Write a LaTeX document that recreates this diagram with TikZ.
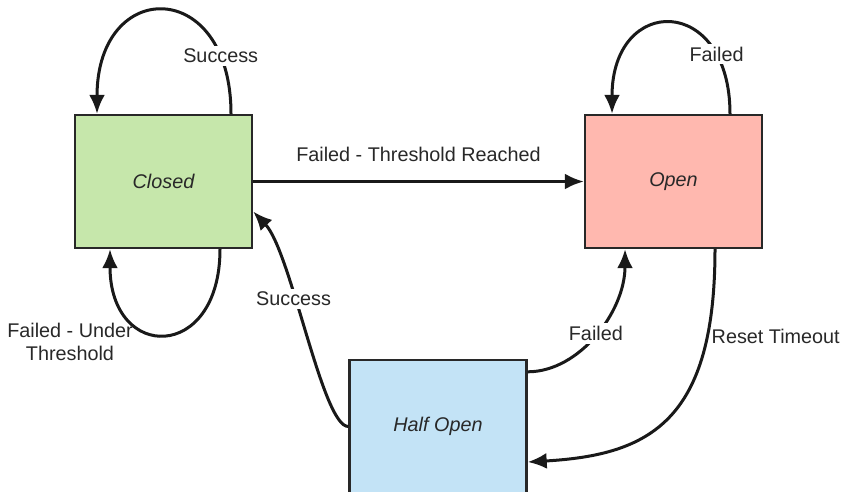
\documentclass[tikz,border=0pt]{standalone}
\usepackage{fontspec}
\setmainfont{Liberation Sans}
\usepackage{xcolor}
\usepackage{tikz}
\usetikzlibrary{arrows.meta,positioning}
\definecolor{closedgreen}{RGB}{198,231,171}
\definecolor{openpink}{RGB}{255,184,175}
\definecolor{halfblue}{RGB}{195,227,246}
\definecolor{inkgray}{RGB}{40,40,40}
\tikzset{
  statebox/.style={rectangle, draw=inkgray, line width=2.4pt, minimum width=177pt, minimum height=133pt, font=\fontsize{19.8}{23}\selectfont\itshape, text=inkgray},
  trans/.style={line width=3pt, draw=black!90, -{Latex[length=19pt,width=16pt]}},
  lbl/.style={font=\fontsize{19.8}{23}\selectfont, text=inkgray, inner sep=3pt},
  onlbl/.style={lbl, fill=white}
}
\begin{document}
\begin{tikzpicture}[x=1pt,y=-1pt]
  \useasboundingbox (0,0) rectangle (843,491);
  % states
  \node[statebox, fill=closedgreen] (closed) at (163.5,181.5) {Closed};
  \node[statebox, fill=openpink] (open) at (673.5,181.5) {Open};
  \node[statebox, fill=halfblue] (half) at (438,426.5) {Half Open};

  % self loops
  \draw[trans] ([xshift=67.5pt]closed.north) .. controls +(0,-137) and +(0,-137) .. ([xshift=-66.5pt]closed.north)
    node[onlbl, pos=0.17] {Success};
  \draw[trans] ([xshift=56.5pt]open.north) .. controls +(0,-120) and +(0,-120) .. ([xshift=-61.5pt]open.north)
    node[onlbl, pos=0.21] {Failed};
  \draw[trans] ([xshift=56.5pt]closed.south) .. controls +(0,113) and +(0,113) .. ([xshift=-53.5pt]closed.south);
  \node[lbl, align=center] (underlbl) at (70,342) {Failed - Under\\Threshold};

  % transitions
  \draw[trans] (closed.east) -- (open.west)
    node[lbl, midway, above=15pt] {Failed - Threshold Reached};
  \draw[trans] (half.west) .. controls +(-26,0) and +(38,40) .. ([yshift=-30pt]closed.east)
    node[onlbl, pos=0.62] {Success};
  \draw[trans] ([yshift=-13pt]half.north east) .. controls +(52,0) and +(0,62) .. ([xshift=-48.5pt]open.south)
    node[onlbl, pos=0.5] {Failed};
  \draw[trans] ([xshift=41.5pt]open.south) .. controls +(0,172) and +(122,-7) .. ([yshift=-35.5pt]half.east)
    node[lbl, pos=0.2, anchor=west] {Reset Timeout};
\end{tikzpicture}
\end{document}
